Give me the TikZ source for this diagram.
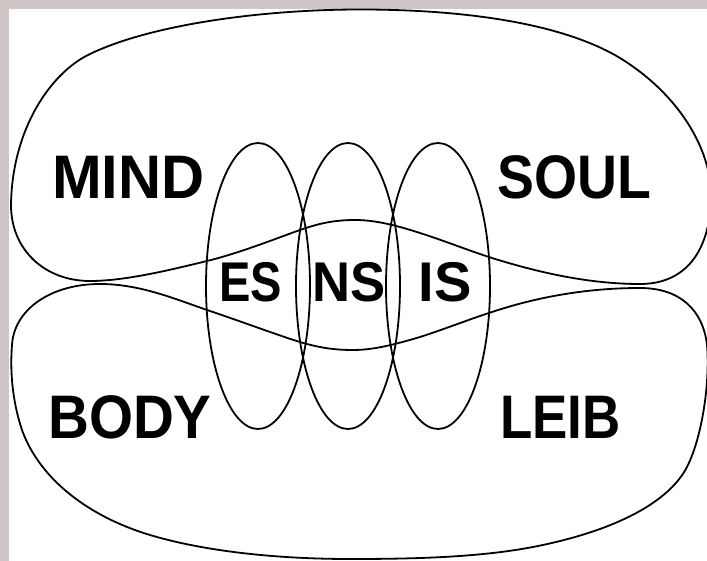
\documentclass[tikz,border=0pt]{standalone}
\usepackage{fontspec}
\usepackage{graphicx}
\setmainfont{Liberation Sans}
\usetikzlibrary{shapes.geometric}
\definecolor{framegray}{RGB}{207,199,197}
\begin{document}
\begin{tikzpicture}[x=1pt,y=-1pt,
  blob/.style={draw=black, line width=1.8pt, line join=round},
  oval/.style={draw=black, line width=1.8pt, ellipse, inner sep=0pt, minimum width=104pt, minimum height=286pt},
  biglab/.style={anchor=base, inner sep=0pt, font=\bfseries\fontsize{61.5}{70}\selectfont},
  smalllab/.style={anchor=base, inner sep=0pt, font=\bfseries\fontsize{56}{64}\selectfont}]
\useasboundingbox (0,0) rectangle (707,561);
\fill[framegray] (0,0) rectangle (707,561);
\fill[white] (9,9) rectangle (707,561);
\begin{scope}
\clip (0,0) rectangle (707,561);
% top blob
\draw[blob] (90,281) .. controls (125,281) and (170,270) .. (207,261)
  .. controls (240,253) and (280,237) .. (300,230)
  .. controls (320,223) and (335,220) .. (355,220)
  .. controls (375,220) and (395,225) .. (420,233)
  .. controls (445,241) and (470,251) .. (492,258)
  .. controls (540,273) and (590,284) .. (640,284)
  .. controls (690,284) and (711,245) .. (711,195)
  .. controls (711,150) and (680,95) .. (620,58)
  .. controls (560,22) and (460,9.5) .. (360,9.5)
  .. controls (260,9.5) and (150,25) .. (90,54)
  .. controls (50,73) and (12,130) .. (11,205)
  .. controls (11,250) and (45,281) .. (90,281) -- cycle;
% bottom blob
\draw[blob] (100,284) .. controls (140,284) and (175,299) .. (207,310)
  .. controls (240,321) and (280,336) .. (300,342)
  .. controls (320,348) and (335,350) .. (353,350)
  .. controls (373,350) and (393,345) .. (420,337)
  .. controls (445,329) and (470,319) .. (492,312)
  .. controls (540,296) and (590,288) .. (640,288)
  .. controls (680,288) and (703,310) .. (707,345)
  .. controls (710,380) and (703,435) .. (687,467)
  .. controls (670,500) and (620,530) .. (533,547)
  .. controls (480,557) and (420,559) .. (350,559)
  .. controls (270,559) and (200,550) .. (150,535)
  .. controls (90,517) and (40,480) .. (22,430)
  .. controls (12,400) and (10,370) .. (12,345)
  .. controls (14,310) and (50,284) .. (100,284) -- cycle;
\end{scope}
\node[oval] (es) at (258,286) {};
\node[oval] (ns) at (348,286) {};
\node[oval] (is) at (438,286) {};
\node[biglab] (mind) at (128.5,199) {\scalebox{0.97}[1]{MIND}};
\node[biglab] (soul) at (574.5,199) {\scalebox{0.9}[1]{SOUL}};
\node[biglab] (body) at (130,438) {\scalebox{0.92}[1]{BODY}};
\node[biglab] (leib) at (560.5,438) {\scalebox{0.86}[1]{LEIB}};
\node[smalllab] (estext) at (250.5,302) {\scalebox{0.84}[1]{ES}};
\node[smalllab] (nstext) at (349,302) {\scalebox{0.94}[1]{NS}};
\node[smalllab] (istext) at (445,302) {IS};
\end{tikzpicture}
\end{document}
